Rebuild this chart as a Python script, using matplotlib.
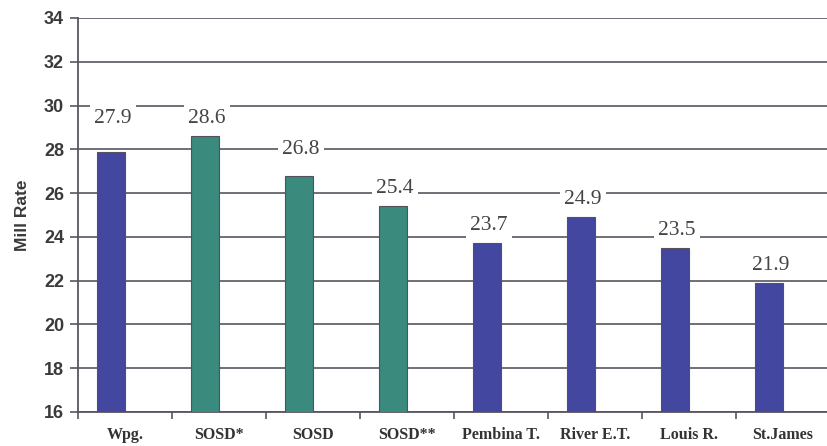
import matplotlib.pyplot as plt
import numpy as np

categories = ['Wpg.', 'SOSD*', 'SOSD', 'SOSD**', 'Pembina T.', 'River E.T.', 'Louis R.', 'St.James']
mill_rates = [27.9, 28.6, 26.8, 25.4, 23.7, 24.9, 23.5, 21.9]
bar_colors = ['#4347a0', '#3a8a7e', '#3a8a7e', '#3a8a7e', '#4347a0', '#4347a0', '#4347a0', '#4347a0']
y_ticks = list(range(16, 35, 2))

# how far each value label sits above its bar (the original nudges a couple up)
label_lift = [1.3, 0.6, 1.0, 0.6, 0.6, 0.6, 0.6, 0.6]

fig = plt.figure(figsize=(8.27, 4.46), dpi=100)
# axes run off the right edge of the picture, like the scanned original
ax = fig.add_axes([78 / 827, 34 / 446, 752 / 827, 394 / 446])

x = np.arange(len(categories))
ax.bar(x - 0.15, mill_rates, width=0.29, color=bar_colors,
       edgecolor='#55505a', linewidth=0.8, zorder=3)

# value labels with white boxes that cut the gridlines
for xi, v, lift in zip(x, mill_rates, label_lift):
    ax.text(xi - 0.13, v + lift, f'{v:.1f}', ha='center', va='baseline',
            family='Liberation Serif', fontsize=15.5, color='#444444', zorder=4,
            bbox=dict(facecolor='white', edgecolor='none', pad=3))

ax.set_xlim(-0.5, 7.5)
ax.set_ylim(16, 34)
ax.set_yticks(y_ticks)
ax.set_yticklabels([str(t) for t in y_ticks], family='Liberation Sans',
                   fontweight='bold', fontsize=13, color='#3a3a3a')
ax.yaxis.grid(True, color='#5a5560', linewidth=1.2, zorder=0)

# major x ticks at category borders, labels at category centres
ax.set_xticks(np.arange(-0.5, 8.0, 1.0))
ax.set_xticklabels([])
ax.set_xticks(x, minor=True)
ax.set_xticklabels(categories, minor=True, family='Liberation Serif',
                   fontweight='bold', fontsize=11.5, color='#333333')
ax.tick_params(axis='x', which='minor', length=0, pad=11)
ax.tick_params(axis='x', which='major', length=5, width=1.2, color='#5a5560', direction='out')
ax.tick_params(axis='y', length=6, width=1.2, color='#5a5560', pad=4)

for side in ['top', 'right']:
    ax.spines[side].set_visible(False)
for side in ['left', 'bottom']:
    ax.spines[side].set_color('#5a5560')
    ax.spines[side].set_linewidth(1.3)

ax.set_ylabel('Mill Rate', family='Liberation Sans', fontweight='bold',
              fontsize=12.5, color='#3a3a3a', labelpad=10)

fig.savefig('out.png', dpi=100)
